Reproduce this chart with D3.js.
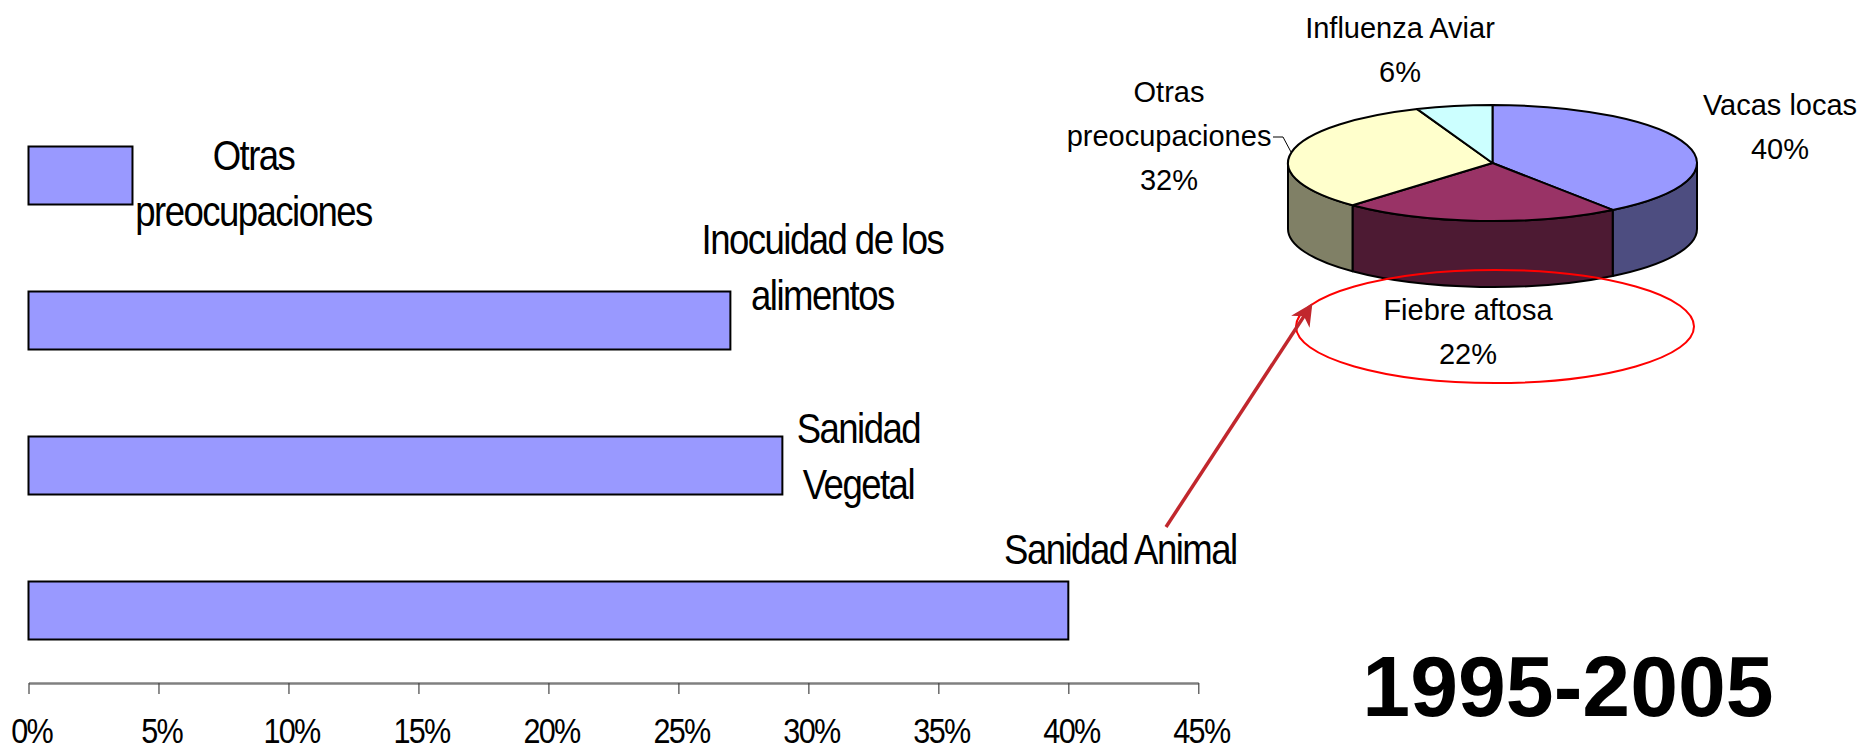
<!DOCTYPE html>
<html>
<head>
<meta charset="utf-8">
<script src="https://cdn.jsdelivr.net/npm/d3@7"></script>
<style>
  body { margin: 0; background: #fff; }
  text { font-family: "Liberation Sans", Arial, sans-serif; }
</style>
</head>
<body>
<script>
// canvas
const width = 1865,
  height = 750;

// bar chart data (top to bottom)
const barCategories = ["Otras preocupaciones", "Inocuidad de los alimentos", "Sanidad Vegetal", "Sanidad Animal"];
const barValues = [0.04, 0.27, 0.29, 0.40];
const barLabelLines = [["Otras", "preocupaciones"], ["Inocuidad de los", "alimentos"], ["Sanidad", "Vegetal"], ["Sanidad Animal"]];
const xTicks = [0, 0.05, 0.10, 0.15, 0.20, 0.25, 0.30, 0.35, 0.40, 0.45];

// pie data (clockwise from 12 o'clock)
const pieCategories = ["Vacas locas", "Fiebre aftosa", "Otras preocupaciones", "Influenza Aviar"];
const pieValues = [40, 22, 32, 6];
const pieLabelLines = [["Vacas locas"], ["Fiebre aftosa"], ["Otras", "preocupaciones"], ["Influenza Aviar"]];
const pieColors = ["#9999FF", "#993366", "#FFFFCC", "#CCFFFF"];

const periodTitle = "1995-2005";

// layout for the bar labels: offset of the text centre from the bar end,
// and of the first baseline from the bar top
const barLabelLayout = [
  { dx: 121, dy: 23 },
  { dx: 92, dy: -38 },
  { dx: 76, dy: 6 },
  { dx: 52, dy: -18 }
];
const barLineGap = 57;

// pie label anchors (centre x, first baseline)
const pieLabelLayout = [[1780, 115], [1468, 320], [1169, 102], [1400, 38]];
const pieLineGap = 44;

let svg = d3.select("body")
  .append("svg")
  .attr("width", width)
  .attr("height", height);

// ---------- bar chart ----------
const axisY = 683;

let xScale = d3.scaleLinear()
  .domain([0, 0.45])
  .range([28.5, 1198.3]);

let yScale = d3.scaleBand()
  .domain(barCategories)
  .range([103, axisY])
  .paddingInner(0.6)
  .paddingOuter(0.3);

svg.append("g")
  .selectAll("rect")
  .data(barCategories)
  .enter()
  .append("rect")
  .attr("x", xScale(0))
  .attr("y", d => yScale(d))
  .attr("width", (d, i) => xScale(barValues[i]) - xScale(0))
  .attr("height", yScale.bandwidth())
  .attr("fill", "#9999FF")
  .attr("stroke", "#000")
  .attr("stroke-width", 2);

// category labels next to the bar ends
let barLabels = svg.append("g")
  .selectAll("text")
  .data(barCategories)
  .enter()
  .append("text")
  .attr("transform", (d, i) => {
    const cx = xScale(barValues[i]) + barLabelLayout[i].dx;
    const by = yScale(d) + barLabelLayout[i].dy;
    return `translate(${cx},${by}) scale(0.85,1)`;
  })
  .attr("text-anchor", "middle")
  .attr("font-size", 43)
  .attr("letter-spacing", "-1.8px")
  .attr("fill", "#000");

barLabels.selectAll("tspan")
  .data((d, i) => barLabelLines[i])
  .enter()
  .append("tspan")
  .attr("x", 0)
  .attr("y", (d, j) => j * barLineGap)
  .text(d => d);

// x axis
let xAxis = svg.append("g")
  .attr("transform", `translate(0,${axisY})`)
  .call(d3.axisBottom(xScale)
    .tickValues(xTicks)
    .tickFormat(d3.format(".0%"))
    .tickSize(11)
    .tickSizeOuter(0));

xAxis.select(".domain")
  .attr("stroke", "#808080")
  .attr("stroke-width", 2.5);

xAxis.selectAll(".tick line")
  .attr("stroke", "#444")
  .attr("stroke-width", 1.2);

xAxis.selectAll(".tick text")
  .attr("y", 60)
  .attr("dy", 0)
  .attr("x", 3)
  .attr("transform", "scale(0.85,1)")
  .attr("font-size", 36)
  .attr("letter-spacing", "-2px")
  .attr("fill", "#000")
  .style("font-family", "'Liberation Sans', Arial, sans-serif");

// ---------- 3D pie ----------
const cx = 1492.5,
  cy = 163,
  rx = 204.5,
  ry = 58,
  depth = 66;

const pt = (a, dy = 0) => [cx + rx * Math.sin(a), cy - ry * Math.cos(a) + dy];

let arcs = d3.pie().sort(null).value(d => d)(pieValues);

const sideColor = c => {
  const col = d3.rgb(c);
  return d3.rgb(col.r * 0.5, col.g * 0.5, col.b * 0.5).formatHex();
};

// front walls
svg.append("g")
  .selectAll("path")
  .data(arcs.filter(a => Math.min(a.endAngle, 1.5 * Math.PI) > Math.max(a.startAngle, 0.5 * Math.PI)))
  .enter()
  .append("path")
  .attr("d", a => {
    const s0 = Math.max(a.startAngle, 0.5 * Math.PI);
    const s1 = Math.min(a.endAngle, 1.5 * Math.PI);
    const p0 = pt(s0), p1 = pt(s1), q1 = pt(s1, depth), q0 = pt(s0, depth);
    return `M${p0} A${rx},${ry} 0 0 1 ${p1} L${q1} A${rx},${ry} 0 0 0 ${q0} Z`;
  })
  .attr("fill", a => sideColor(pieColors[a.index]))
  .attr("stroke", "#000")
  .attr("stroke-width", 2)
  .attr("stroke-linejoin", "round");

// top faces
svg.append("g")
  .selectAll("path")
  .data(arcs)
  .enter()
  .append("path")
  .attr("d", a => {
    const p0 = pt(a.startAngle), p1 = pt(a.endAngle);
    const large = a.endAngle - a.startAngle > Math.PI ? 1 : 0;
    return `M${cx},${cy} L${p0} A${rx},${ry} 0 ${large} 1 ${p1} Z`;
  })
  .attr("fill", a => pieColors[a.index])
  .attr("stroke", "#000")
  .attr("stroke-width", 2)
  .attr("stroke-linejoin", "round");

// pie labels
const pct = d3.format(".0%");
let pieLabels = svg.append("g")
  .selectAll("text")
  .data(pieCategories)
  .enter()
  .append("text")
  .attr("transform", (d, i) => `translate(${pieLabelLayout[i][0]},${pieLabelLayout[i][1]})`)
  .attr("text-anchor", "middle")
  .attr("font-size", 29)
  .attr("fill", "#000");

pieLabels.selectAll("tspan")
  .data((d, i) => pieLabelLines[i].concat([pct(pieValues[i] / 100)]))
  .enter()
  .append("tspan")
  .attr("x", 0)
  .attr("y", (d, j) => j * pieLineGap)
  .text(d => d);

// leader line for "Otras preocupaciones"
svg.append("path")
  .attr("d", "M1273,137 L1283,137 L1291,152")
  .attr("fill", "none")
  .attr("stroke", "#000")
  .attr("stroke-width", 1);

// ---------- annotations ----------
svg.append("ellipse")
  .attr("cx", 1495)
  .attr("cy", 326.5)
  .attr("rx", 199)
  .attr("ry", 56.5)
  .attr("fill", "none")
  .attr("stroke", "#FF0000")
  .attr("stroke-width", 2);

svg.append("defs")
  .append("marker")
  .attr("id", "head")
  .attr("markerUnits", "userSpaceOnUse")
  .attr("viewBox", "0 0 10 10")
  .attr("refX", 8)
  .attr("refY", 5)
  .attr("markerWidth", 24)
  .attr("markerHeight", 22)
  .attr("orient", "auto")
  .append("path")
  .attr("d", "M0,0 L10,5 L0,10 L3,5 Z")
  .attr("fill", "#C1272D");

svg.append("line")
  .attr("x1", 1166)
  .attr("y1", 527)
  .attr("x2", 1310)
  .attr("y2", 307)
  .attr("stroke", "#C1272D")
  .attr("stroke-width", 3.5)
  .attr("marker-end", "url(#head)");

svg.append("text")
  .attr("x", 1568)
  .attr("y", 716)
  .attr("text-anchor", "middle")
  .attr("font-size", 86)
  .attr("font-weight", "bold")
  .attr("fill", "#000")
  .text(periodTitle);
</script>
</body>
</html>
